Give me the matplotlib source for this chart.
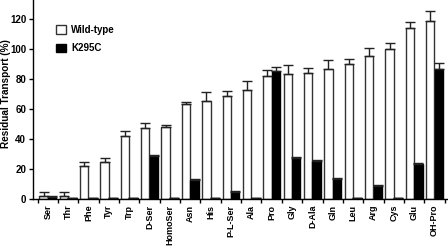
import matplotlib
matplotlib.use("Agg")
import matplotlib.pyplot as plt
import numpy as np

plt.rcParams["font.family"] = ["Liberation Sans", "DejaVu Sans"]
plt.rcParams["font.weight"] = "bold"

substrates = ["Ser", "Thr", "Phe", "Tyr", "Trp", "D-Ser", "HomoSer", "Asn", "His",
              "P-L-Ser", "Ala", "Pro", "Gly", "D-Ala", "Gln", "Leu", "Arg", "Cys",
              "Glu", "OH-Pro"]
wild_type = [2.2, 1.8, 22, 25, 42.4, 47.3, 48, 63.3, 65.8, 68.7, 72.7, 82, 83.6, 84,
             86.7, 90.2, 95.6, 100, 114, 119]
wild_type_err = [2.5, 2.7, 2.7, 2.2, 3, 3.3, 1.5, 1.5, 5.8, 3.8, 6, 4.5, 6, 3.6,
                 6, 3.6, 5.5, 4, 4.2, 6.9]
k295c = [1.5, 0.5, 0.5, 0.5, 0.6, 29, 1, 12.9, 0.5, 4.9, 0.8, 85.5, 27.5, 25.3,
         13.5, 0.9, 8.9, 0.7, 23.3, 87.1]
k295c_err = [0.6, 0, 0, 0, 0, 0.4, 0, 0.4, 0, 0.5, 0, 3, 0.4, 1, 0.4, 0, 0.4, 0, 1, 4]

x = np.arange(len(substrates))
w = 0.41

fig = plt.figure(figsize=(4.48, 2.5), dpi=100)
ax = fig.add_axes([0.074, 0.204, 0.924, 0.796])

err_kw = dict(elinewidth=1.0, capthick=1.0, ecolor="#222222")
ax.bar(x - 0.21, wild_type, w, color="white", edgecolor="#333333", linewidth=1.0,
       yerr=[np.zeros(len(x)), wild_type_err], capsize=3.5, error_kw=err_kw,
       label="Wild-type", zorder=2)
ax.bar(x + 0.21, k295c, w, color="black", edgecolor="black", linewidth=1.0,
       yerr=[np.zeros(len(x)), k295c_err], capsize=3.5, error_kw=err_kw,
       label="K295C", zorder=2)

ax.set_xlim(-0.72, 19.62)
ax.set_ylim(0, 133)
ax.set_yticks([0, 20, 40, 60, 80, 100, 120])
ax.set_xticks(x)
ax.set_xticklabels(substrates, rotation=90, fontsize=6.5, fontweight="bold")
ax.set_xticks(np.arange(-0.5, 20, 1), minor=True)
ax.tick_params(axis="x", which="major", length=0, pad=4)
ax.tick_params(axis="x", which="minor", length=3, width=1, direction="out")
ax.tick_params(axis="y", length=3, width=1, labelsize=7, pad=2)
for lab in ax.get_yticklabels():
    lab.set_fontweight("bold")

ax.spines["top"].set_visible(False)
ax.spines["right"].set_visible(False)
ax.spines["left"].set_linewidth(1)
ax.spines["bottom"].set_linewidth(1)

ax.set_ylabel("Residual Transport (%)", fontsize=7.2, fontweight="bold")
ax.yaxis.set_label_coords(-0.054, 0.53)

leg = ax.legend(loc="upper left", bbox_to_anchor=(0.035, 0.92), frameon=False,
                fontsize=7, handlelength=1.0, handleheight=1.0, handletextpad=0.5,
                labelspacing=0.9)
for t in leg.get_texts():
    t.set_fontweight("bold")

fig.savefig("out.png", dpi=100)
